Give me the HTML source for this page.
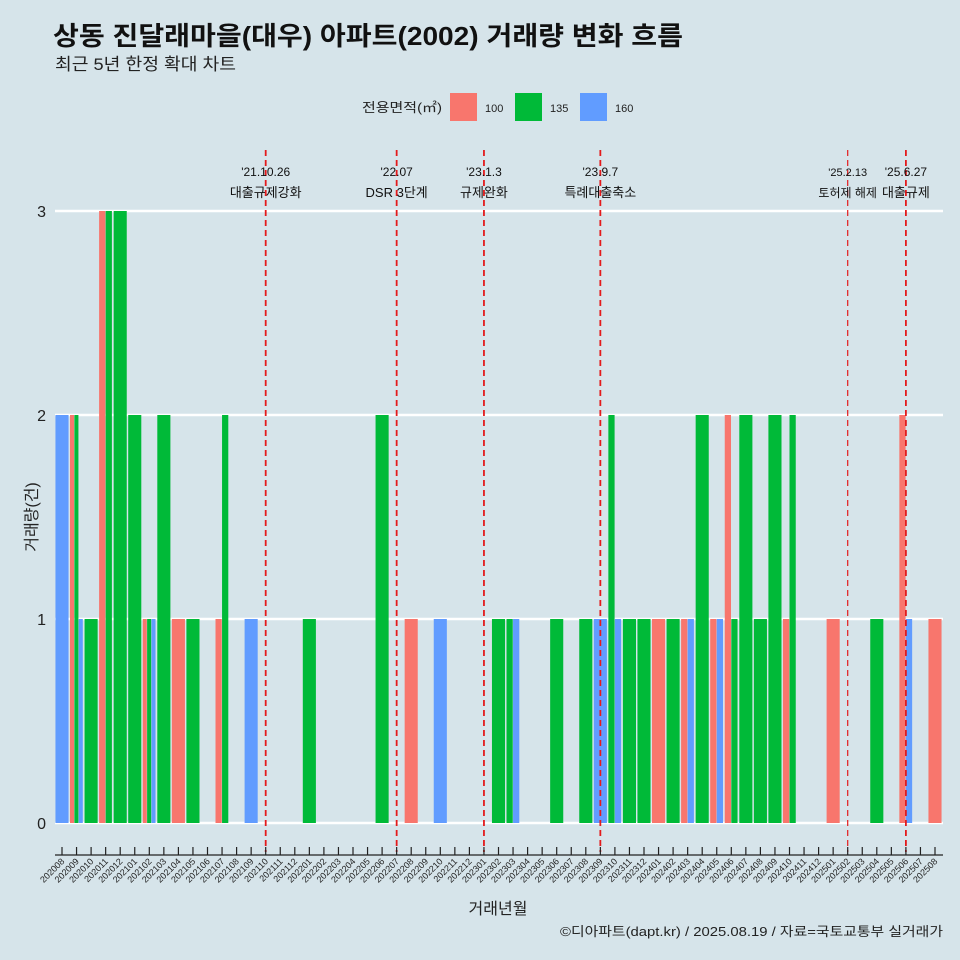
<!DOCTYPE html>
<html><head><meta charset="utf-8"><style>
body{margin:0;background:#d6e4ea;}
svg{display:block;font-family:"Liberation Sans","Noto Sans CJK KR",sans-serif;}
</style></head><body>
<svg id="c" width="960" height="960" viewBox="0 0 960 960">
<rect width="960" height="960" fill="#d6e4ea"/>
<text x="53" y="45" font-size="26" font-weight="bold" fill="#111" textLength="630" lengthAdjust="spacingAndGlyphs">상동 진달래마을(대우) 아파트(2002) 거래량 변화 흐름</text>
<text x="55" y="70" font-size="17" fill="#222" textLength="181" lengthAdjust="spacingAndGlyphs">최근 5년 한정 확대 차트</text>
<g>
<text x="362" y="112" font-size="13" fill="#222" textLength="80" lengthAdjust="spacingAndGlyphs">전용면적(㎡)</text>
<rect x="450" y="93" width="27" height="28" fill="#f8766d"/>
<text x="485" y="112" font-size="11" fill="#222">100</text>
<rect x="515" y="93" width="27" height="28" fill="#00ba38"/>
<text x="550" y="112" font-size="11" fill="#222">135</text>
<rect x="580" y="93" width="27" height="28" fill="#619cff"/>
<text x="615" y="112" font-size="11" fill="#222">160</text>
</g>
<g id="grid"></g><g id="bars"></g><g id="events"></g><g id="xaxis"></g>
<text x="37" y="517" font-size="16" fill="#222" transform="rotate(-90 37 517)" text-anchor="middle">거래량(건)</text>
<text x="498" y="914" font-size="16" fill="#222" text-anchor="middle">거래년월</text>
<text x="943" y="936" font-size="13" fill="#222" text-anchor="end" textLength="383" lengthAdjust="spacingAndGlyphs">©디아파트(dapt.kr) / 2025.08.19 / 자료=국토교통부 실거래가</text>
</svg>
<script>
const months=[];for(let y=2020;y<=2025;y++)for(let m=1;m<=12;m++){const k=y*100+m;if(k>=202008&&k<=202508)months.push(String(k));}
const series=["100","135","160"];
const colors={"100":"#f8766d","135":"#00ba38","160":"#619cff"};
// [month, area, count]
const trades=[
["202008","160",2],["202009","100",2],["202009","135",2],["202009","160",1],["202010","135",1],
["202011","100",3],["202011","135",3],["202012","135",3],["202101","135",2],
["202102","100",1],["202102","135",1],["202102","160",1],["202103","135",2],["202104","100",1],["202105","135",1],
["202107","100",1],["202107","135",2],["202109","160",1],["202201","135",1],["202206","135",2],["202208","100",1],["202210","160",1],
["202302","135",1],["202303","135",1],["202303","160",1],["202306","135",1],["202308","135",1],["202309","160",1],
["202310","135",2],["202310","160",1],["202311","135",1],["202312","135",1],["202401","100",1],["202402","135",1],
["202403","100",1],["202403","160",1],["202404","135",2],["202405","100",1],["202405","160",1],
["202406","100",2],["202406","135",1],["202407","135",2],["202408","135",1],["202409","135",2],
["202410","100",1],["202410","135",2],["202501","100",1],["202504","135",1],["202506","100",2],["202506","160",1],["202508","100",1]];
const yTicks=[0,1,2,3];
const events=[["202110","'21.10.26","대출규제강화",2],["202207","'22.07","DSR 3단계",2],["202301","'23.1.3","규제완화",2],["202309","'23.9.7","특례대출축소",2],["202502","'25.2.13","토허제 해제",1],["202506","'25.6.27","대출규제",2]];
const NS="http://www.w3.org/2000/svg";
const x0=62,dx=(935-62)/60,bw=dx*0.9;
const X=m=>x0+months.indexOf(m)*dx;
const Y=v=>823-v*204;
function el(t,a,p){const e=document.createElementNS(NS,t);for(const k in a)e.setAttribute(k,a[k]);p.appendChild(e);return e;}
const G=document.getElementById('grid');
yTicks.forEach(v=>{
 const l=el('line',{x1:55,x2:943,y1:Y(v),y2:Y(v),stroke:'#fff','stroke-width':2.5},G);
 
 
 const t=el('text',{x:46,y:Y(v)+6,'font-size':16,fill:'#222','text-anchor':'end'},G);t.textContent=v;
 
 
});
const B=document.getElementById('bars');
months.forEach(m=>{
 const rows=trades.filter(r=>r[0]===m).sort((a,b)=>series.indexOf(a[1])-series.indexOf(b[1]));
 const n=rows.length;if(!n)return;const w=bw/n;
 rows.forEach((r,i)=>{
  const r0=el('rect',{x:X(m)-bw/2+i*w,y:Y(r[2]),width:w-(n>1?0.3:0),height:Y(0)-Y(r[2]),fill:colors[r[1]]},B);
  
  
 });
});
const E=document.getElementById('events');
events.forEach(ev=>{
 const x=X(ev[0]);
 const l=el('line',{x1:x,x2:x,y1:150,y2:852,stroke:'#e31a1c','stroke-width':ev[3]===1?1.2:1.8,'stroke-dasharray':'6 4'},E);
 
 
 const a=el('text',{x:x,y:176,'font-size':ev[3]===1?11:12,fill:'#111','text-anchor':'middle'},E);a.textContent=ev[1];
 
 
 const b=el('text',{x:x,y:197,'font-size':ev[3]===1?12:13,fill:'#111','text-anchor':'middle'},E);b.textContent=ev[2];
 
 
});
const A=document.getElementById('xaxis');
const al=el('line',{x1:55,x2:943,y1:855,y2:855,stroke:'#222','stroke-width':1.2},A);


months.forEach(m=>{
 const x=X(m);
 el('line',{x1:x,x2:x,y1:847,y2:855,stroke:'#222','stroke-width':1.2},A);
 const t=el('text',{x:x+3,y:862,'font-size':9,fill:'#222','text-anchor':'end',transform:`rotate(-45 ${x+3} 862)`},A);
 t.textContent=m;
 
 
});
</script>
</body></html>
